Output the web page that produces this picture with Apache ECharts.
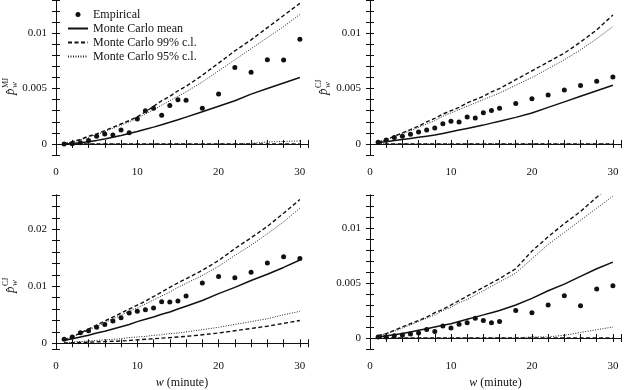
<!DOCTYPE html>
<html><head><meta charset="utf-8">
<script src="https://cdn.jsdelivr.net/npm/echarts@6/dist/echarts.min.js"></script>
<style>html,body{margin:0;padding:0;background:#fff}#c{width:624px;height:390px}</style>
</head><body><div id="c"></div><script>
// window lengths (minutes)
const wMinutes = [1,2,3,4,5,6,7,8,9,10,11,12,13,14,15,16,18,20,22,24,26,28,30];

// Panel A: p_w^MJ
const mjEmp  = [0,0.00002,0.0001,0.0003,0.0007,0.0009,0.0008,0.00126,0.001,0.00225,0.003,0.00323,0.0026,0.00347,0.004,0.00395,0.00323,0.0045,0.0069,0.00647,0.0076,0.00757,0.00946];
const mjMean = [0,0.00004,0.0001,0.0002,0.00032,0.00045,0.0006,0.00077,0.00095,0.00113,0.00132,0.00152,0.00173,0.00195,0.00218,0.00242,0.0029,0.0034,0.0039,0.0045,0.005,0.0055,0.006];
const mjUp99 = [0,0.0002,0.0004,0.0007,0.0009,0.0012,0.0015,0.0018,0.0021,0.00245,0.0029,0.0034,0.0039,0.0043,0.0048,0.0052,0.0062,0.0073,0.0084,0.0094,0.0105,0.0116,0.0127];
const mjLo99 = [0,0,0,0,0,0,0,0,0,0,0,0,0,0,0,0,0,0,0,0,0,0,0];
const mjUp95 = [0,0.00018,0.00036,0.0006,0.00085,0.0011,0.0014,0.0017,0.002,0.0023,0.0027,0.0031,0.0035,0.0039,0.0043,0.0047,0.0056,0.0066,0.0076,0.0086,0.0096,0.0106,0.0117];
const mjLo95 = [0,0,0,0,0,0,0,0,0,0,0,0,0,0,0,0,0,0,0,0.00005,0.00018,0.00022,0.00027];

// Panel B: p_w^CJ (top right)
const cjAEmp  = [0.00015,0.00036,0.00057,0.0007,0.00087,0.00108,0.00126,0.00144,0.00183,0.00204,0.00198,0.00243,0.00234,0.00281,0.00302,0.00323,0.00365,0.00407,0.00443,0.00488,0.00527,0.00566,0.00605];
const cjAMean = [0.00012,0.0002,0.0003,0.0004,0.0005,0.0006,0.0007,0.0008,0.00095,0.0011,0.00125,0.0014,0.00155,0.0017,0.00188,0.00205,0.0024,0.0028,0.0033,0.0038,0.0043,0.0048,0.0053];
const cjAUp99 = [0.00015,0.0004,0.0007,0.001,0.0013,0.0016,0.002,0.0023,0.0027,0.003,0.0033,0.0037,0.004,0.0043,0.0047,0.005,0.0058,0.0066,0.0074,0.0082,0.0092,0.0103,0.01165];
const cjALo99 = [0,0,0,0,0,0,0,0,0,0,0,0,0,0,0,0,0,0,0,0,0,0,0];
const cjAUp95 = [0.00015,0.00038,0.00065,0.00093,0.0012,0.0015,0.0018,0.0021,0.0025,0.0028,0.0031,0.0034,0.0037,0.004,0.0043,0.0046,0.0053,0.006,0.0068,0.0076,0.0085,0.0095,0.0106];
const cjALo95 = [0,0,0,0,0,0,0,0,0,0,0,0,0,0,0,0,0,0,0,0,0,0,0];

// Panel C: p_w^CJ (bottom left)
const cjBEmp  = [0.0007,0.0011,0.00185,0.0022,0.0028,0.0033,0.0039,0.0045,0.0053,0.0056,0.0059,0.0062,0.0073,0.00726,0.0074,0.0083,0.01055,0.0117,0.01147,0.01245,0.01406,0.01516,0.01487];
const cjBMean = [0.0005,0.0008,0.0011,0.0014,0.0018,0.0021,0.0025,0.0029,0.0033,0.0038,0.0042,0.0046,0.0051,0.0055,0.006,0.0065,0.0075,0.0087,0.0098,0.011,0.0121,0.0133,0.0146];
const cjBUp99 = [0.0006,0.0012,0.0018,0.0025,0.0032,0.0039,0.0046,0.0053,0.006,0.0067,0.0074,0.0082,0.009,0.0098,0.0106,0.0113,0.0128,0.0145,0.0166,0.0185,0.0205,0.0228,0.0252];
const cjBLo99 = [0.00005,0.0001,0.00015,0.0002,0.00025,0.0003,0.00035,0.0004,0.0005,0.0006,0.0007,0.0008,0.0009,0.001,0.0011,0.0012,0.0015,0.0018,0.0022,0.0026,0.003,0.0035,0.004];
const cjBUp95 = [0.0006,0.0011,0.0017,0.0023,0.003,0.0036,0.0043,0.0049,0.0056,0.0062,0.0069,0.0076,0.0083,0.009,0.0098,0.0105,0.0119,0.0135,0.0154,0.0172,0.0192,0.0213,0.0237];
const cjBLo95 = [0.0001,0.0002,0.0003,0.0004,0.0005,0.0006,0.0007,0.0008,0.001,0.0011,0.0012,0.0014,0.0015,0.0017,0.0018,0.002,0.0024,0.0028,0.0033,0.0038,0.0043,0.005,0.0056];

// Panel D: (bottom right)
const dEmp  = [0.0001,0.0001,0.0002,0.00027,0.00036,0.00045,0.00078,0.0006,0.00108,0.0009,0.00126,0.00138,0.0018,0.00159,0.00138,0.0015,0.00249,0.0023,0.003,0.00383,0.00293,0.00446,0.00476];
const dMean = [0.0001,0.0002,0.0003,0.0004,0.00055,0.0007,0.00085,0.001,0.00115,0.0013,0.0015,0.0017,0.0019,0.0021,0.0023,0.0025,0.003,0.0036,0.0043,0.0049,0.0056,0.0063,0.0069];
const dUp99 = [0.0002,0.0004,0.0007,0.001,0.0013,0.0016,0.0019,0.0023,0.0026,0.003,0.0034,0.0038,0.0042,0.0046,0.005,0.0054,0.0063,0.0079,0.0092,0.0104,0.0115,0.0128,0.014];
const dLo99 = [0,0,0,0,0,0,0,0,0,0,0,0,0,0,0,0,0,0,0,0,0,0,0];
const dUp95 = [0.0002,0.0004,0.0006,0.0009,0.0012,0.0015,0.0018,0.0021,0.0025,0.0028,0.0032,0.0035,0.0039,0.0043,0.0047,0.0051,0.0059,0.0072,0.0085,0.0096,0.0107,0.0118,0.0129];
const dLo95 = [0,0,0,0,0,0,0,0,0,0,0,0,0,0,0,0,0,0.0001,0.0001,0.00025,0.0005,0.00075,0.001];

const xTickLabels = [0,10,20,30];
const yLabelsSmall = [0,0.005,0.01];
const yLabelsLarge = [0,0.01,0.02];
const legendNames = ['Empirical','Monte Carlo mean','Monte Carlo 99% c.l.','Monte Carlo 95% c.l.'];

const FONT = 'Liberation Serif';
const INK = '#111';
const pair = arr => wMinutes.map((w,i)=>[w,arr[i]]);
const near = (v,list)=>list.some(t=>Math.abs(v-t)<1e-9);

const grids = [
  {left:56, top:0, width:252, height:155},
  {left:370, top:0, width:252, height:155},
  {left:56, top:195, width:252, height:155},
  {left:370, top:195, width:252, height:155}
];
const panels = [
  {emp:mjEmp, mean:mjMean, up99:mjUp99, lo99:mjLo99, up95:mjUp95, lo95:mjLo95, max:0.013, step:0.001, labels:yLabelsSmall, xname:false},
  {emp:cjAEmp, mean:cjAMean, up99:cjAUp99, lo99:cjALo99, up95:cjAUp95, lo95:cjALo95, max:0.013, step:0.001, labels:yLabelsSmall, xname:false},
  {emp:cjBEmp, mean:cjBMean, up99:cjBUp99, lo99:cjBLo99, up95:cjBUp95, lo95:cjBLo95, max:0.026, step:0.002, labels:yLabelsLarge, xname:true},
  {emp:dEmp, mean:dMean, up99:dUp99, lo99:dLo99, up95:dUp95, lo95:dLo95, max:0.013, step:0.001, labels:yLabelsSmall, xname:true}
];

const xAxis = [], yAxis = [], series = [];
const axLine = {show:true, lineStyle:{color:INK, width:1}};
panels.forEach((p,g)=>{
  const xb = {type:'value', gridIndex:g, min:0, max:31, interval:2, position:'bottom',
    axisLine:axLine, axisTick:{show:true, inside:true, length:4, lineStyle:{color:INK}},
    splitLine:{show:false},
    axisLabel:{fontFamily:FONT, fontSize:11, color:INK, margin:12,
      formatter:v=> near(v,xTickLabels) ? String(v) : ''}};
  if (p.xname) {
    Object.assign(xb, {name:'{i|w} (minute)', nameLocation:'middle', nameGap:28,
      nameTextStyle:{fontFamily:FONT, fontSize:12, color:INK,
        rich:{i:{fontFamily:FONT, fontStyle:'italic', fontSize:12, color:INK}}}});
  }
  xAxis.push(xb);
  xAxis.push({type:'value', gridIndex:g, min:0, max:31, interval:2, position:'top',
    axisLine:axLine, axisTick:{show:true, inside:true, length:4, lineStyle:{color:INK}},
    axisLabel:{show:false}, splitLine:{show:false}});
  const yCommon = {type:'value', gridIndex:g, min:-0.001, max:p.max,
    minInterval:p.step, maxInterval:p.step, splitNumber:Math.round((p.max+0.001)/p.step),
    axisLine:axLine, axisTick:{show:true, inside:true, length:4, lineStyle:{color:INK}},
    splitLine:{show:false}};
  yAxis.push(Object.assign({}, yCommon, {position:'left',
    axisLabel:{fontFamily:FONT, fontSize:11, color:INK, margin:9,
      formatter:v=> near(v,p.labels) ? String(+v.toFixed(3)) : ''}}));
  yAxis.push(Object.assign({}, yCommon, {position:'right', axisLabel:{show:false}}));

  const xi = 2*g, yi = 2*g;
  series.push({name:legendNames[0], type:'scatter', xAxisIndex:xi, yAxisIndex:yi,
    data:pair(p.emp), symbol:'circle', symbolSize:5, itemStyle:{color:INK, opacity:1}, z:5});
  series.push({name:legendNames[1], type:'line', xAxisIndex:xi, yAxisIndex:yi,
    data:pair(p.mean), symbol:'none', lineStyle:{color:INK, width:1.5, type:'solid'}, itemStyle:{color:INK}});
  [p.up99, p.lo99].forEach(arr=>series.push({name:legendNames[2], type:'line', xAxisIndex:xi, yAxisIndex:yi,
    data:pair(arr), symbol:'none', lineStyle:{color:INK, width:1.4, type:[4,2.5]}, itemStyle:{color:INK}}));
  [p.up95, p.lo95].forEach(arr=>series.push({name:legendNames[3], type:'line', xAxisIndex:xi, yAxisIndex:yi,
    data:pair(arr), symbol:'none', lineStyle:{color:'#222', width:1, type:[1,1.5]}, itemStyle:{color:INK}}));
});

function yName(x, y, sup) {
  return {type:'group', x:x, y:y, rotation:Math.PI/2, children:[
    {type:'text', x:0, y:0, style:{text:'p\u0302', font:'italic 13px "'+FONT+'"', fill:INK, verticalAlign:'middle'}},
    {type:'text', x:7, y:4, style:{text:'w', font:'italic 9px "'+FONT+'"', fill:INK, verticalAlign:'middle'}},
    {type:'text', x:7, y:-5.5, style:{text:sup, font:'8px "'+FONT+'"', fill:INK, verticalAlign:'middle'}}
  ]};
}

const hideDot = {opacity:0};
const chart = echarts.init(document.getElementById('c'), null, {renderer:'canvas'});
chart.setOption({
  animation:false,
  backgroundColor:'#fff',
  grid:grids,
  xAxis:xAxis, yAxis:yAxis, series:series,
  legend:{orient:'vertical', left:67, top:8, padding:0, itemWidth:20, itemHeight:5, itemGap:1,
    textStyle:{fontFamily:FONT, fontSize:12, color:INK, lineHeight:13},
    data:[{name:legendNames[0], icon:'circle'},
      {name:legendNames[1], itemStyle:hideDot},
      {name:legendNames[2], itemStyle:hideDot},
      {name:legendNames[3], itemStyle:hideDot}]},
  graphic:[yName(11, 95, 'MJ'), yName(324, 95, 'CJ'), yName(11, 293, 'CJ')]
});
</script></body></html>
